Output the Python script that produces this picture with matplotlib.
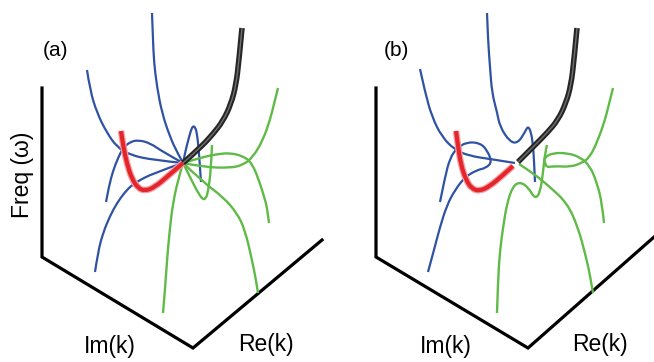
import matplotlib
matplotlib.use("Agg")
import matplotlib.pyplot as plt
from matplotlib.path import Path
from matplotlib.patches import PathPatch

plt.rcParams['font.family'] = ['Liberation Sans', 'DejaVu Sans']

# ---- Branch curves of the dispersion sketch, in drawing units (x right, y down) ----
# Panel (a): degenerate crossing point
a_axes = [(42, 88), (42, 257), (193, 348), (322, 240)]
a_blue_top = [(152, 13), (153, 40), (154, 62), (157, 87), (162, 113), (170, 137), (177, 152), (183, 163)]
a_blue_upleft = [(87, 70), (90, 90), (97, 113), (107, 133), (117, 147), (130, 155), (153, 160), (183, 163)]
a_blue_hump = [(106, 202), (109, 186), (113, 171), (118, 158), (123, 148), (130, 142), (138, 140), (150, 143), (163, 152), (183, 163)]
a_blue_low = [(95, 272), (98, 252), (103, 233), (110, 216), (117, 203), (125, 192), (133, 184), (153, 173), (183, 163)]
a_blue_spike = [(183, 163), (185, 153), (188, 141), (191, 130), (193, 126), (195, 127), (197, 133), (199, 153), (200, 168), (201, 182)]
a_black = [(183, 163), (200, 148), (213, 134), (223, 121), (231, 104), (236, 85), (239, 60), (242, 28)]
a_red = [(121, 131), (123, 145), (127, 164), (132, 179), (138, 188), (145, 191), (155, 187), (168, 176), (183, 163)]
a_green_downleft = [(183, 163), (178, 180), (173, 203), (170, 227), (167, 260), (165, 290), (163, 313)]
a_green_downright = [(183, 163), (203, 182), (223, 197), (237, 213), (245, 230), (252, 260), (256, 280), (258, 293)]
a_green_spike = [(183, 163), (190, 177), (197, 191), (203, 200), (206, 198), (208, 192), (211, 170), (212, 145)]
a_green_hump = [(183, 163), (203, 157), (218, 154), (230, 153), (243, 156), (252, 163), (260, 183), (265, 200), (267, 207), (269, 223)]
a_green_rise = [(183, 163), (203, 167), (230, 168), (243, 165), (253, 157), (263, 140), (270, 120), (274, 104), (278, 88)]

# Panel (b): split crossing point
b_axes = [(376, 88), (376, 257), (528, 348), (662, 230)]
b_blue_top = [(487, 13), (488, 40), (490, 67), (492, 93), (497, 112), (500, 127), (510, 142), (518, 143), (525, 132), (528, 126), (531, 132), (533, 145), (534, 160), (535, 182)]
b_blue_upleft = [(420, 69), (425, 92), (432, 117), (442, 137), (455, 150), (470, 156), (490, 159), (515, 163)]
b_blue_loop = [(440, 202), (445, 177), (450, 158), (457, 148), (467, 142), (480, 143), (487, 150), (492, 162), (486, 168), (477, 170), (465, 177), (455, 190), (447, 205), (440, 227), (434, 250), (428, 272)]
b_black = [(518, 162), (533, 147), (547, 133), (558, 120), (566, 103), (571, 85), (574, 60), (577, 28)]
b_red = [(456, 131), (458, 146), (461, 165), (466, 180), (472, 189), (480, 191), (490, 186), (502, 176), (513, 166)]
b_green_downright = [(519, 164), (533, 173), (550, 187), (567, 203), (578, 227), (586, 257), (590, 275), (593, 293)]
b_green_hump = [(497, 313), (498, 280), (500, 250), (503, 228), (507, 203), (513, 186), (520, 182), (528, 187), (535, 199), (540, 193), (543, 173), (545, 153), (547, 145)]
b_green_loop = [(547, 167), (544, 162), (545, 157), (553, 153), (567, 153), (580, 157), (590, 166), (597, 183), (602, 203), (604, 223)]
b_green_rise = [(547, 167), (555, 166), (570, 167), (582, 163), (590, 157), (598, 140), (605, 120), (609, 104), (613, 88)]

labels = {
    'panel_a': '(a)', 'panel_b': '(b)',
    'freq': 'Freq (\u03c9)', 'im': 'Im(k)', 're': 'Re(k)',
}

BLUE = '#2f52a3'
GREEN = '#5fba47'
RED = '#e6242b'
HALO = '#f2a0a4'
BLACK = '#262626'

fig = plt.figure(figsize=(6.54, 3.62), dpi=100)
ax = fig.add_axes([0, 0, 1, 1])
ax.set_xlim(0, 654)
ax.set_ylim(362, 0)
ax.axis('off')


def smooth_path(points):
    """Quadratic Bezier path using the listed points as control points."""
    verts = [points[0]]
    codes = [Path.MOVETO]
    n = len(points)
    for i in range(1, n - 1):
        p, q = points[i], points[i + 1]
        end = q if i == n - 2 else ((p[0] + q[0]) / 2, (p[1] + q[1]) / 2)
        verts += [p, end]
        codes += [Path.CURVE3, Path.CURVE3]
    if n == 2:
        verts.append(points[1])
        codes.append(Path.LINETO)
    return Path(verts, codes)


def draw(points, color, lw, z=2):
    patch = PathPatch(smooth_path(points), facecolor='none', edgecolor=color,
                      lw=lw, zorder=z, capstyle='butt', joinstyle='round')
    ax.add_patch(patch)


for axes_pts in (a_axes, b_axes):
    xs = [p[0] for p in axes_pts]
    ys = [p[1] for p in axes_pts]
    ax.plot(xs, ys, color='black', lw=2.3, zorder=1, solid_joinstyle='miter')

for curve in (a_blue_top, a_blue_upleft, a_blue_hump, a_blue_low, a_blue_spike,
              b_blue_top, b_blue_upleft, b_blue_loop):
    draw(curve, BLUE, 1.6, z=3)

for curve in (a_green_downleft, a_green_downright, a_green_spike, a_green_hump, a_green_rise,
              b_green_downright, b_green_hump, b_green_loop, b_green_rise):
    draw(curve, GREEN, 1.7, z=3)

for curve in (a_red, b_red):
    draw(curve, HALO, 4.8, z=4)
    draw(curve, RED, 3.0, z=5)

for curve in (a_black, b_black):
    draw(curve, BLACK, 4.0, z=4)
    draw(curve, '#707070', 1.0, z=5)

fs = 16.5
ax.text(55, 51, labels['panel_a'], fontsize=15, ha='center', va='center')
ax.text(396, 51, labels['panel_b'], fontsize=15, ha='center', va='center')
ax.text(22, 175, labels['freq'], fontsize=fs, ha='center', va='center', rotation=90)
ax.text(110, 347, labels['im'], fontsize=fs, ha='center', va='center')
ax.text(266, 344, labels['re'], fontsize=fs, ha='center', va='center')
ax.text(446, 347, labels['im'], fontsize=fs, ha='center', va='center')
ax.text(600, 344, labels['re'], fontsize=fs, ha='center', va='center')

fig.savefig('out.png', dpi=100)
